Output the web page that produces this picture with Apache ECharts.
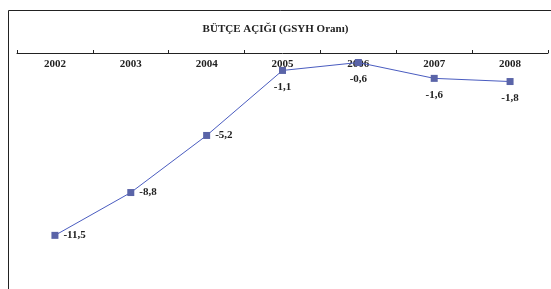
<!DOCTYPE html>
<html><head><meta charset="utf-8">
<script src="https://cdn.jsdelivr.net/npm/echarts@6/dist/echarts.min.js"></script>
<style>html,body{margin:0;padding:0;background:#fff}#c{width:551px;height:289px}</style>
</head><body><div id="c"></div>
<script>
const years = ['2002','2003','2004','2005','2006','2007','2008'];
const deficit = [-11.5, -8.8, -5.2, -1.1, -0.6, -1.6, -1.8];
const labelSides = ['right','right','right','bottom','bottom','bottom','bottom'];
const titleText = 'BÜTÇE AÇIĞI (GSYH Oranı)';

const chart = echarts.init(document.getElementById('c'), null, {renderer:'canvas'});
const font = '"Liberation Serif","Times New Roman",serif';
chart.setOption({
  animation:false,
  backgroundColor:'#fff',
  title:{text:titleText, left:'center', top:19, textStyle:{fontFamily:font, fontSize:11, fontWeight:'bold', color:'#222'}},
  graphic:[{type:'polyline', shape:{points:[[8.5,300],[8.5,10.5],[560,10.5]]}, style:{stroke:'#222', lineWidth:1, fill:null}}],
  grid:{left:17, top:53, width:531, height:222, containLabel:false},
  xAxis:{type:'category', data:years, position:'top', boundaryGap:true,
    axisLine:{lineStyle:{color:'#222', width:1}},
    axisTick:{show:true, length:3, lineStyle:{color:'#222'}},
    axisLabel:{inside:true, margin:6, fontFamily:font, fontSize:11, fontWeight:'bold', color:'#222'},
    splitLine:{show:false}},
  yAxis:{type:'value', min:-14, max:0, show:false},
  series:[{type:'line', data:deficit.map((v,i)=>({value:v, label:{position:labelSides[i], distance: labelSides[i]==='right'?5:8}})),
    symbol:'rect', symbolSize:7, itemStyle:{color:'#5a64a8'},
    lineStyle:{color:'#4a5cc0', width:1},
    label:{show:true, fontFamily:font, fontSize:11, fontWeight:'bold', color:'#222',
      formatter:p=>String(p.value).replace('.',',')}}]
});
</script></body></html>
